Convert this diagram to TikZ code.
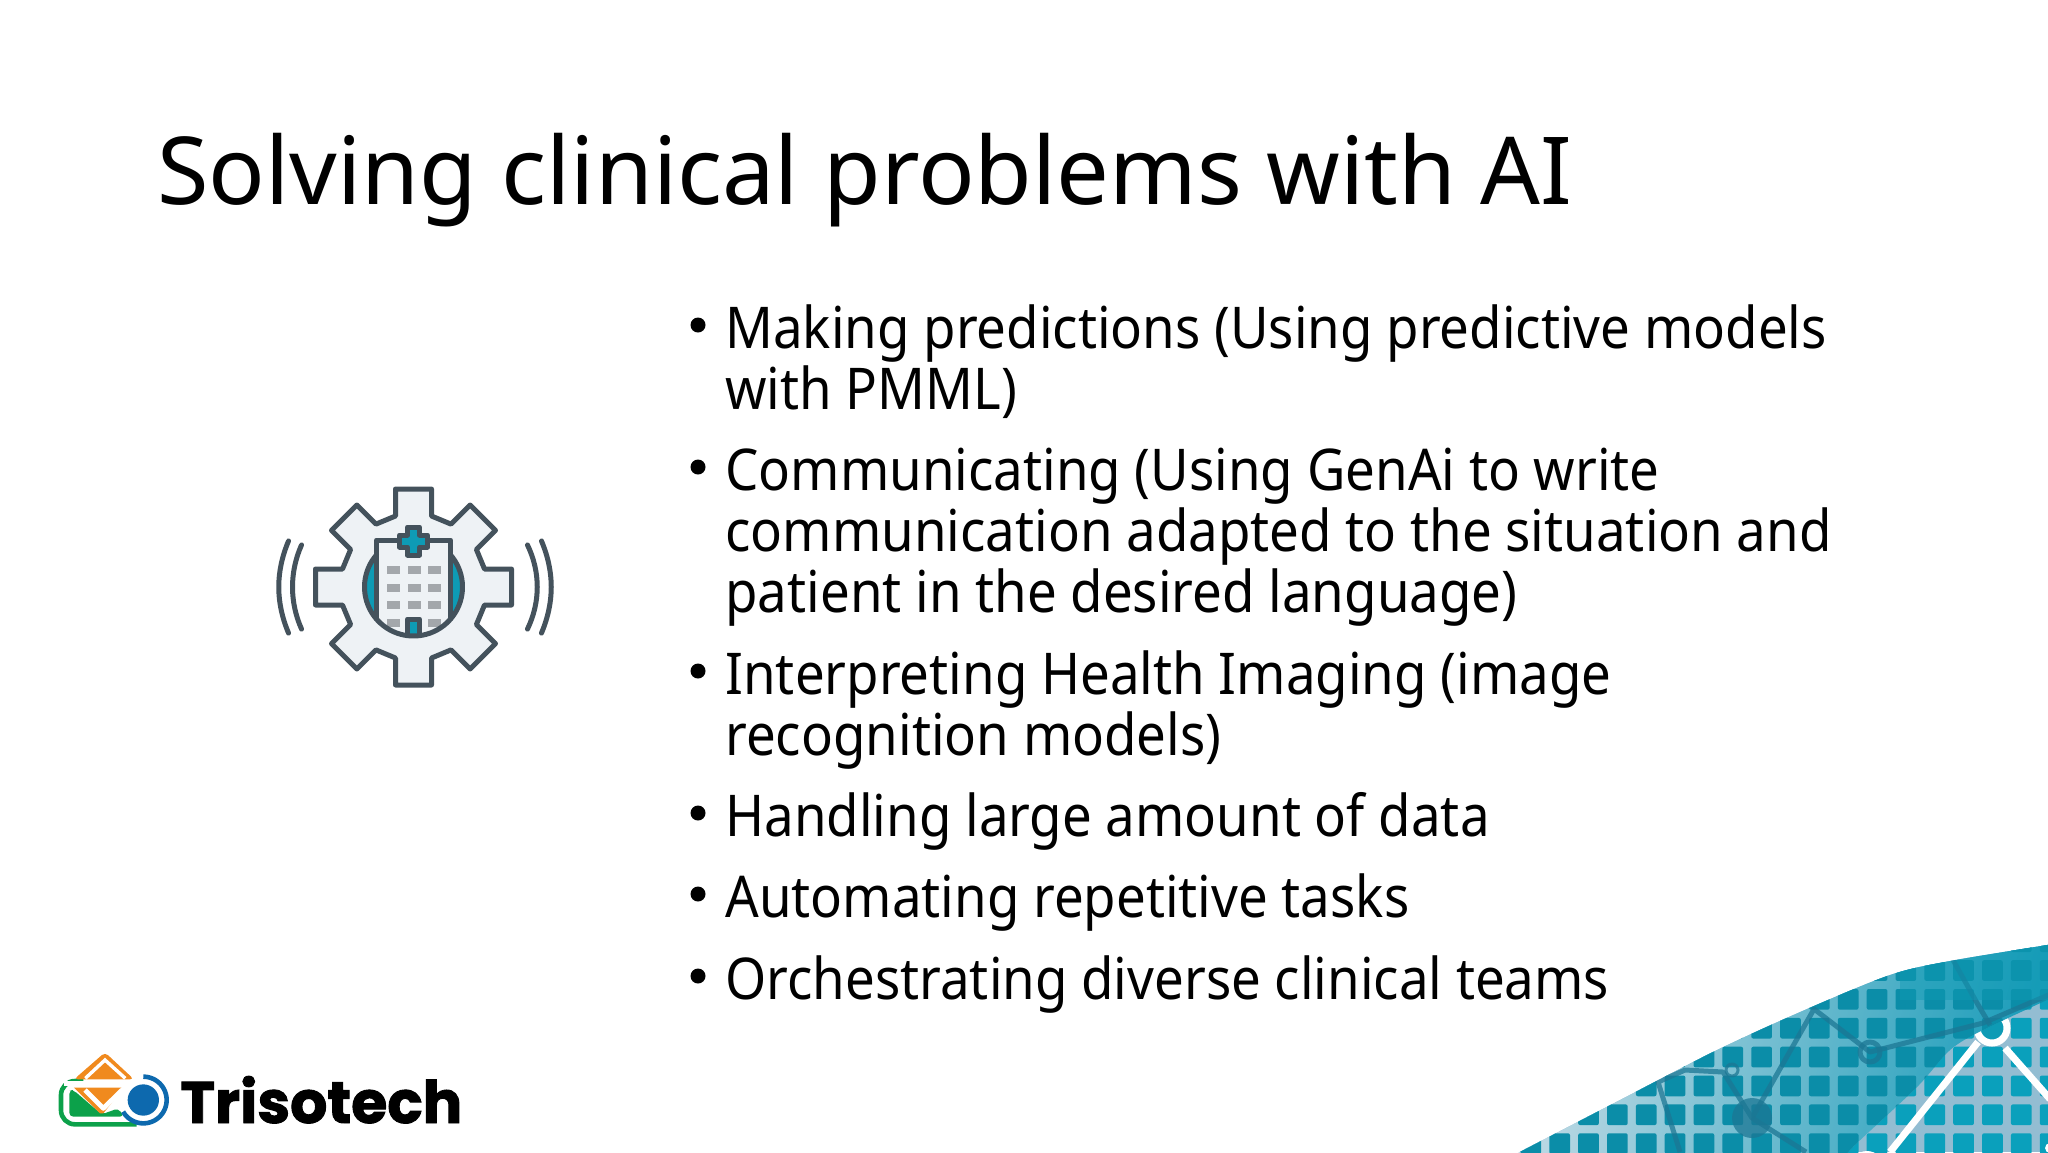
\documentclass[tikz,border=0pt]{standalone}
\usepackage{fontspec}
\setmainfont{Noto Sans}
\newfontfamily\bodyfont{Noto Sans}[FakeStretch=0.917]
\newfontfamily\logofont{Poppins}[FakeBold=1.6]
\definecolor{slate}{HTML}{44525C}
\definecolor{gearfill}{HTML}{EEF2F5}
\definecolor{hosteal}{HTML}{0E9BB5}
\definecolor{winfill}{HTML}{A3A7AB}
\definecolor{logogreen}{HTML}{0CA14A}
\definecolor{logoorange}{HTML}{F08A1E}
\definecolor{logoblue}{HTML}{0D69AE}
\definecolor{cellup}{HTML}{0B8DA8}
\definecolor{celllow}{HTML}{0AA0BC}
\definecolor{gridlow}{HTML}{93BDD2}
\definecolor{gridlight}{HTML}{C8DDE7}
\definecolor{gridmid}{HTML}{6BB6CF}
\definecolor{griddark}{HTML}{1C9DBA}
\definecolor{tracecol}{HTML}{1C7794}
\newcommand{\cellgrid}[1]{
  \foreach \i in {-2,...,17}
    \foreach \j in {-4,...,3}
      \fill[#1, rounded corners=1pt] ({1549.3+\i*28.85},{1046.7+\j*28.85}) rectangle ++(20.7,20.7);
}
\begin{document}
\begin{tikzpicture}[x=0.5pt, y=-0.5pt]

  \tikzstyle{item} = [anchor=base west, align=left, inner sep=0pt, font=\bodyfont\fontsize{28.8}{30.5}\selectfont]
  \tikzstyle{itemdot} = [circle, fill=black, inner sep=0pt, minimum size=7.5pt]
  \tikzstyle{gearline} = [draw=slate, line width=2.5pt, line join=round, line cap=round]
  \tikzstyle{trace} = [draw=tracecol, line width=2.5pt, opacity=0.75, line join=round]
  \tikzstyle{whitetrace} = [draw=white, line width=3.5pt]

  \useasboundingbox (0,0) rectangle (2048,1152);

  \node[anchor=base west, inner sep=0pt, font=\fontsize{46.9}{50}\selectfont] (title) at (157,204) {Solving clinical problems with AI};

  \node[item] (predict) at (725,409) {Making predictions (Using predictive models\\with PMML)};
  \node[item] (communicate) at (725,612) {Communicating (Using GenAi to write\\communication adapted to the situation and\\patient in the desired language)};
  \node[item] (imaging) at (725,755) {Interpreting Health Imaging (image\\recognition models)};
  \node[item] (data) at (725,836) {Handling large amount of data};
  \node[item] (automate) at (725,917) {Automating repetitive tasks};
  \node[item] (orchestrate) at (725,999) {Orchestrating diverse clinical teams};
  \foreach \n/\y in {predict/325, communicate/467, imaging/671, data/813, automate/894, orchestrate/976}
    \node[itemdot] (dot\n) at (698,\y) {};

  % gear icon
  \begin{scope}[shift={(413.5,587)}]
    \draw[gearline, fill=gearfill] (-18,-71) -- (-18,-98) -- (18,-98) -- (18,-71)
      -- (37.5,-62.9) -- (56.6,-82) -- (82,-56.6) -- (62.9,-37.5)
      -- (71,-18) -- (98,-18) -- (98,18) -- (71,18)
      -- (62.9,37.5) -- (82,56.6) -- (56.6,82) -- (37.5,62.9)
      -- (18,71) -- (18,98) -- (-18,98) -- (-18,71)
      -- (-37.5,62.9) -- (-56.6,82) -- (-82,56.6) -- (-62.9,37.5)
      -- (-71,18) -- (-98,18) -- (-98,-18) -- (-71,-18)
      -- (-62.9,-37.5) -- (-82,-56.6) -- (-56.6,-82) -- (-37.5,-62.9) -- cycle;
    \fill[hosteal] (0,0) circle (49);
    \fill[gearfill] (-37,-47) rectangle (37,0);
    \begin{scope}
      \clip (0,0) circle (49);
      \fill[gearfill] (-37,-1) rectangle (37,50);
      \foreach \y in {-17,1,18,36}
        \foreach \x in {-20,1,21}
          \fill[winfill] ({\x-6.5},{\y-4}) rectangle ++(13,8);
      \fill[gearfill] (-9,28) rectangle (9,50);
      \draw[gearline, fill=hosteal] (-6,50) -- (-6,32) -- (6,32) -- (6,50);
    \end{scope}
    \draw[gearline] (-37,32) -- (-37,-47) -- (37,-47) -- (37,32);
    \draw[gearline] plot[domain=-131:131, samples=60] ({49*sin(\x)},{49*cos(\x)});
    \draw[gearline, fill=hosteal] (-6,-60) -- (6,-60) -- (6,-52) -- (14,-52) -- (14,-40) -- (6,-40)
      -- (6,-32) -- (-6,-32) -- (-6,-40) -- (-14,-40) -- (-14,-52) -- (-6,-52) -- cycle;
    \draw[gearline] (-125,-46) .. controls (-138,-15) and (-138,15) .. (-125,46);
    \draw[gearline] (-112,-42) .. controls (-124,-15) and (-124,15) .. (-112,42);
    \draw[gearline] (128,-46) .. controls (141,-15) and (141,15) .. (128,46);
    \draw[gearline] (114,-42) .. controls (127,-15) and (127,15) .. (114,42);
  \end{scope}

  % logo
  \begin{scope}[shift={(50,1045)}, scale=0.3333]
    \draw[logogreen, line width=2.3pt, rounded corners=7pt] (100,108) -- (33,108) -- (33,238) -- (260,238);
    \fill[logogreen, rounded corners=2pt] (58,135) -- (70,135) -- (155,208) -- (205,190) -- (222,215) -- (58,215) -- cycle;
    \fill[logoorange, rounded corners=2pt] (72,103) -- (165,22) -- (252,103) -- cycle;
    \draw[white, line width=1.7pt] (106,100) -- (165,45) -- (226,100);
    \fill[logoorange] (72,128) -- (222,128) -- (160,205) -- (150,205) -- cycle;
    \draw[white, line width=2.4pt, line join=round] (42,115) -- (215,115);
    \draw[white, line width=2.4pt, line join=round] (105,135) -- (160,190) -- (240,112);
    \fill[white] (280,165) circle (63);
    \draw[logoblue, line width=2.3pt] plot[domain=-25:215, samples=50] ({280+70*sin(\x+25)},{165-70*cos(\x+25)});
    \fill[logoblue] (280,165) circle (47);
  \end{scope}
  \node[anchor=base west, inner sep=0pt, font=\logofont\bfseries\fontsize{29.3}{30}\selectfont] (brand) at (180,1123) {Trisotech};

  % corner chart
  \begin{scope}
    \clip plot[smooth] coordinates {(1510,1157) (1620,1100) (1717,1050) (1807,1009) (1890,975) (1950,961) (2060,943)}
      -- (2060,1160) -- cycle;
    \fill[gridlow] (1500,930) rectangle (2048,1152);
    \cellgrid{celllow}
    \draw[whitetrace] (1890,1152) -- (1978,1042);
    \draw[whitetrace] (2005,1048) -- (2050,1099);
    \draw[whitetrace, fill=hosteal] (1992,1028) circle (15);
    \fill[white] (2050,1148) circle (5);
    \begin{scope}
      \clip plot[smooth] coordinates {(2060,994) (1983,1030) (1950,1050) (1917,1087) (1857,1143) (1846,1155)}
        -- (1500,1155) -- (1500,930) -- (2060,930) -- cycle;
      \shade[left color=gridlight, middle color=gridmid, right color=griddark, shading angle=75] (1500,930) rectangle (2048,1152);
      \cellgrid{cellup}
      \draw[trace] (1680,1152) -- (1658,1082) -- (1685,1070) -- (1723,1072) -- (1752,1118) -- (1814,1009) -- (1870,1052) -- (1983,1023) -- (2060,990);
      \draw[trace] (1752,1118) -- (1806,1152);
      \draw[trace] (1953,960) -- (1977,1003) -- (1990,1025);
      \fill[tracecol, opacity=0.75] (1752,1118) circle (20);
      \draw[trace] (1870,1052) circle (10);
      \draw[trace, line width=1.5pt] (1732,1070) circle (6);
      \fill[hosteal, opacity=0.45] (1900,930) rectangle (2060,1000);
    \end{scope}
    \fill[white] (1867,1168) circle (17);
  \end{scope}
\end{tikzpicture}
\end{document}
